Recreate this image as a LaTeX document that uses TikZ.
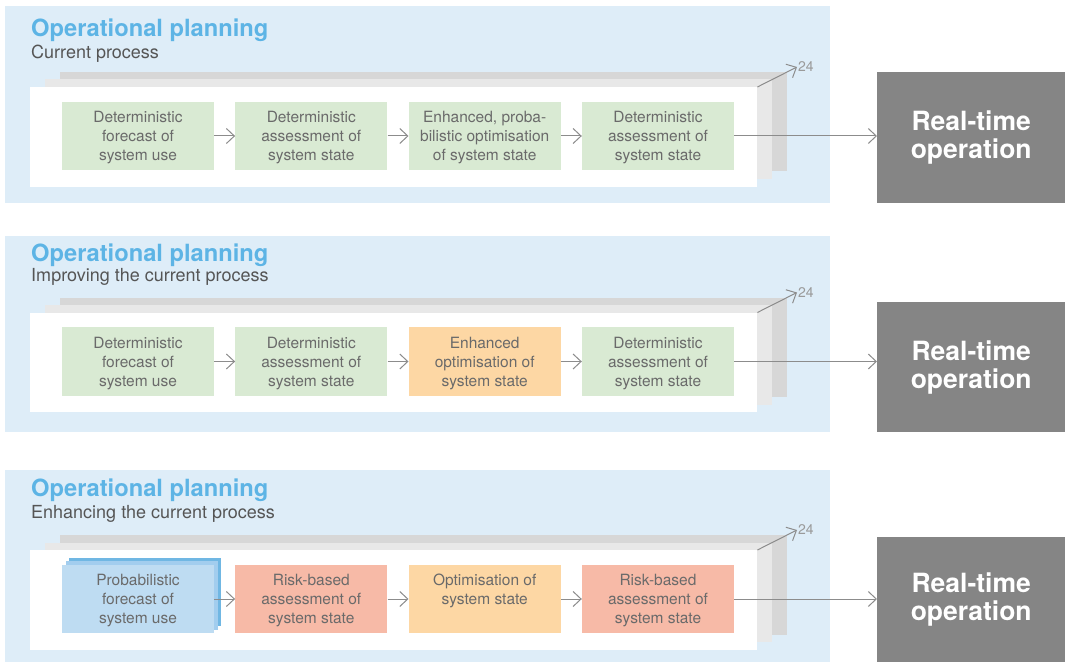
\documentclass[tikz,border=0pt]{standalone}
\usepackage{fontspec}
\setmainfont{TeX Gyre Heros}
\usetikzlibrary{arrows.meta}
\definecolor{panelbg}{HTML}{DEEDF8}
\definecolor{pageback}{HTML}{D7D7D7}
\definecolor{pagemid}{HTML}{E8E8E8}
\definecolor{titleblue}{HTML}{5DB4E5}
\definecolor{subgray}{HTML}{555555}
\definecolor{txtgray}{HTML}{6A6A6A}
\definecolor{arrgray}{HTML}{8C8C8C}
\definecolor{rtgray}{HTML}{858585}
\definecolor{boxgreen}{HTML}{D9EAD3}
\definecolor{boxorange}{HTML}{FDD7A4}
\definecolor{boxsalmon}{HTML}{F7BAA7}
\definecolor{boxblue}{HTML}{BEDCF2}
\definecolor{boxblueB}{HTML}{A2CDEE}
\definecolor{boxblueC}{HTML}{70B7E3}
\definecolor{numgray}{HTML}{9A9A9A}
\tikzset{
  procbox/.style={minimum width=152pt, minimum height=68.5pt, inner sep=0pt, align=center, text=txtgray, text depth=0pt, font=\fontsize{15.5}{19}\selectfont},
  greenbox/.style={procbox, fill=boxgreen},
  orangebox/.style={procbox, fill=boxorange},
  salmonbox/.style={procbox, fill=boxsalmon},
  bluebox/.style={procbox, fill=boxblue},
  flow/.style={draw=arrgray, line width=1pt, -{Straight Barb[length=8pt,width=15pt,line width=1pt]}},
  titletext/.style={anchor=base west, inner sep=0pt, text=titleblue, font=\fontsize{23.7}{28}\selectfont\bfseries},
  subtext/.style={anchor=base west, inner sep=0pt, text=subgray, font=\fontsize{18}{21}\selectfont},
  rtbox/.style={fill=rtgray, text=white, font=\fontsize{26.5}{28}\selectfont\bfseries, align=center, anchor=north west, inner sep=0pt, minimum width=188pt},
  pagebox/.style={fill=white, anchor=north west, inner sep=0pt, minimum width=727pt, minimum height=99.5pt},
  numtext/.style={anchor=west, inner sep=1pt, text=numgray, font=\fontsize{14}{16}\selectfont},
}
% #1 prefix, #2 bg top, #3 bg bottom, #4 title base, #5 sub base, #6 front top, #7 rt top, #8 rt bottom, #9 subtitle
\newcommand{\oppanel}[9]{%
  \fill[panelbg] (5,#2) rectangle (830,#3);
  \node[titletext] (#1-title) at (31,#4) {Operational planning};
  \node[subtext] (#1-sub) at (31,#5) {#9};
  \fill[pageback] (60,#6-15) rectangle (787,#6+84.5);
  \fill[pagemid] (45,#6-7.5) rectangle (772,#6+92);
  \node[pagebox] (#1-page) at (30,#6) {};
  \node[numtext] (#1-num) at (797,#6-20) {24};
  \draw[flow] (#1-page.north east) -- (#1-num.west);
  \node[rtbox, minimum height=#8-#7] (#1-rt) at (877,#7) {Real-time\\operation};
}
\begin{document}
\begin{tikzpicture}[x=1pt,y=-1pt]
\useasboundingbox (0,0) rectangle (1066,663);
\fill[white] (0,0) rectangle (1066,663);

% Panel 1
\oppanel{p1}{6}{203}{36.5}{59}{87}{72}{203}{Current process}
\node[greenbox] (p1b1) at (138,136) {Deterministic\\forecast of\\system use};
\node[greenbox] (p1b2) at (311.3,136) {Deterministic\\assessment of\\system state};
\node[greenbox] (p1b3) at (484.7,136) {Enhanced, proba-\\bilistic optimisation\\of system state};
\node[greenbox] (p1b4) at (658,136) {Deterministic\\assessment of\\system state};
\draw[flow] (p1b1) -- (p1b2);
\draw[flow] (p1b2) -- (p1b3);
\draw[flow] (p1b3) -- (p1b4);
\draw[flow] (p1b4.east) -- (p1b4.east -| p1-rt.west);

% Panel 2
\oppanel{p2}{236}{432}{261.5}{282}{312.5}{302}{432}{Improving the current process}
\node[greenbox] (p2b1) at (138,361.5) {Deterministic\\forecast of\\system use};
\node[greenbox] (p2b2) at (311.3,361.5) {Deterministic\\assessment of\\system state};
\node[orangebox] (p2b3) at (484.7,361.5) {Enhanced\\optimisation of\\system state};
\node[greenbox] (p2b4) at (658,361.5) {Deterministic\\assessment of\\system state};
\draw[flow] (p2b1) -- (p2b2);
\draw[flow] (p2b2) -- (p2b3);
\draw[flow] (p2b3) -- (p2b4);
\draw[flow] (p2b4.east) -- (p2b4.east -| p2-rt.west);

% Panel 3
\oppanel{p3}{470}{662}{496.5}{518}{550}{537}{662}{Enhancing the current process}
\node[procbox, fill=boxblueC] (p3b1c) at (145,592) {};
\node[procbox, fill=boxblueB] (p3b1m) at (141.5,595.5) {};
\node[bluebox] (p3b1) at (138,599) {Probabilistic\\forecast of\\system use};
\node[salmonbox] (p3b2) at (311.3,599) {Risk-based\\assessment of\\system state};
\node[orangebox] (p3b3) at (484.7,599) {Optimisation of\\system state\\\phantom{system state}};
\node[salmonbox] (p3b4) at (658,599) {Risk-based\\assessment of\\system state};
\draw[flow] (p3b1) -- (p3b2);
\draw[flow] (p3b2) -- (p3b3);
\draw[flow] (p3b3) -- (p3b4);
\draw[flow] (p3b4.east) -- (p3b4.east -| p3-rt.west);
\end{tikzpicture}
\end{document}
